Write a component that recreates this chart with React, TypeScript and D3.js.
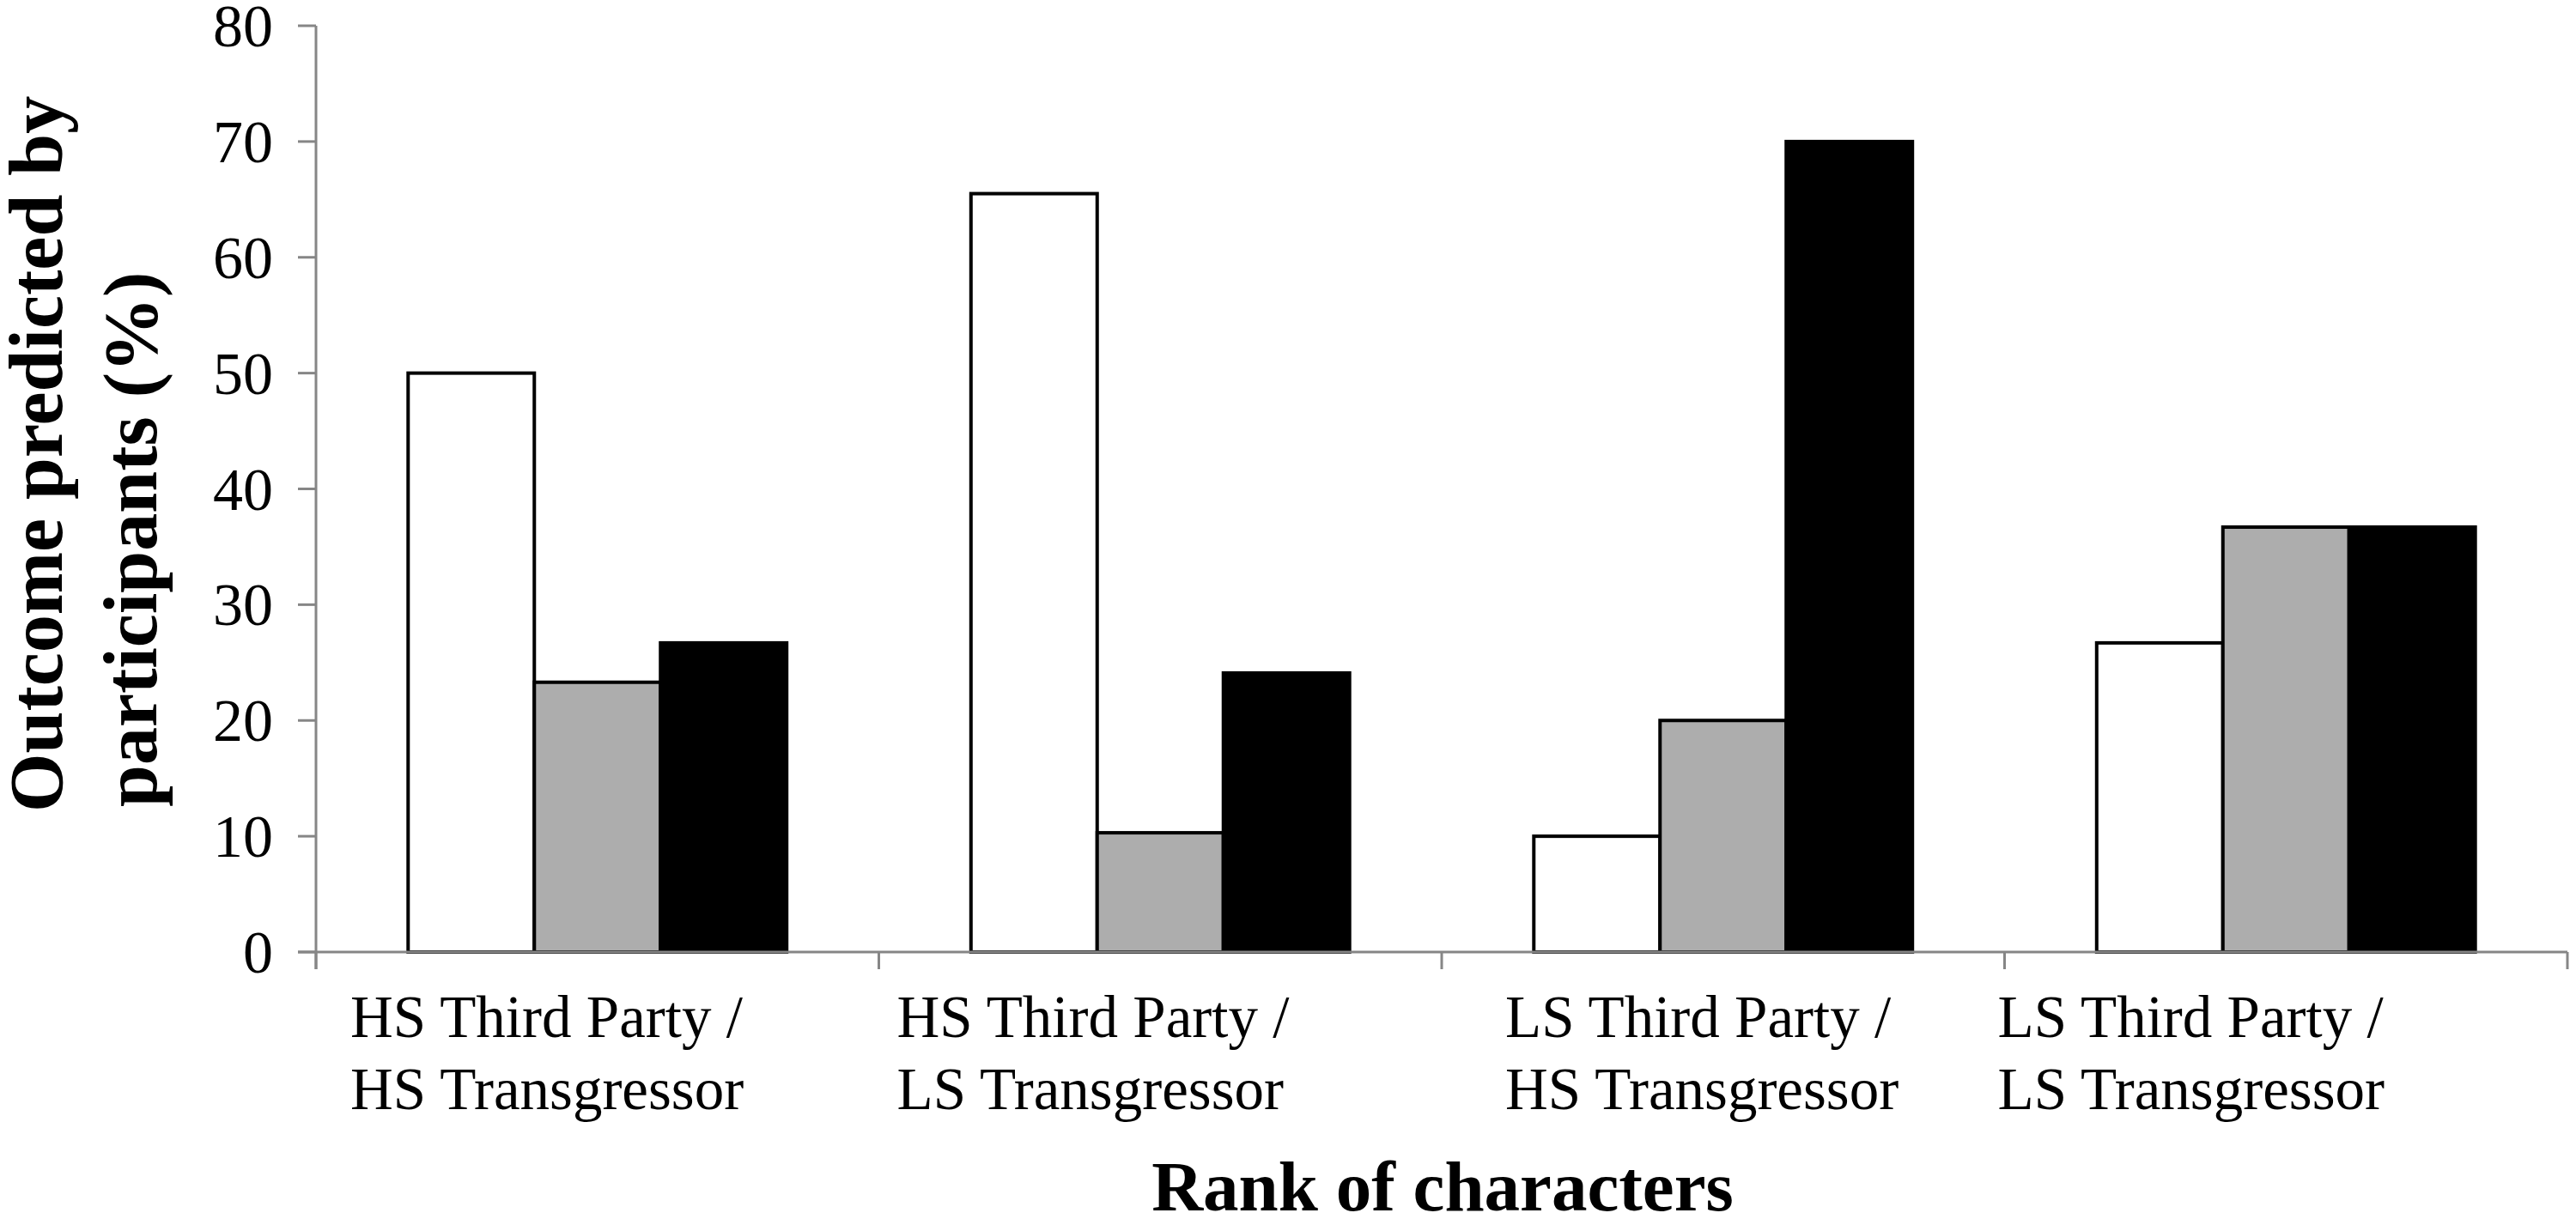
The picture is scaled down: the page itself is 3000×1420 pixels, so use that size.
import React from "react";
import * as d3 from "d3";

const categories = ["HS/HS", "HS/LS", "LS/HS", "LS/LS"];
const labelLines = [
  ["HS Third Party /", "HS Transgressor"],
  ["HS Third Party /", "LS Transgressor"],
  ["LS Third Party /", "HS Transgressor"],
  ["LS Third Party /", "LS Transgressor"],
];
const seriesNames = ["s1", "s2", "s3"];
const series1 = [50, 65.5, 10, 26.7];
const series2 = [23.3, 10.3, 20, 36.7];
const series3 = [26.7, 24.1, 70, 36.7];
const yTicks = [0, 10, 20, 30, 40, 50, 60, 70, 80];

const seriesValues = [series1, series2, series3];
const fills = ["#ffffff", "#adadad", "#000000"];
const labelDx = [40, 21, 74, -8];

const W = 3000;
const H = 1420;
const FONT = "'Liberation Serif', 'Times New Roman', serif";

export default function App() {
  const x0 = d3.scaleBand<string>().domain(categories).range([368, 2990]).paddingInner(0).paddingOuter(0);
  const x1 = d3.scaleBand<string>().domain(seriesNames).range([0, x0.bandwidth()]).paddingInner(0).paddingOuter(0.73);
  const y = d3.scaleLinear().domain([0, 80]).range([1109, 30]);
  const axisColor = "#868686";
  const boundaries = [...categories.map((c) => x0(c) as number), 2990];

  return (
    <div style={{ position: "absolute", left: 0, top: 0, width: W, height: H, background: "#fff" }}>
      <svg width={W} height={H} style={{ display: "block" }} fontFamily={FONT}>
        <rect x={0} y={0} width={W} height={H} fill="#fff" />
        {/* bars */}
        {categories.map((c, ci) => (
          <g key={c} transform={`translate(${x0(c)},0)`}>
            {seriesNames.map((s, si) => {
              const v = seriesValues[si][ci];
              return (
                <rect
                  key={s}
                  x={x1(s)}
                  y={y(v)}
                  width={x1.bandwidth()}
                  height={y(0) - y(v)}
                  fill={fills[si]}
                  stroke="#000"
                  strokeWidth={4}
                />
              );
            })}
          </g>
        ))}
        {/* y axis */}
        <line x1={368} x2={368} y1={y(80)} y2={y(0) + 20} stroke={axisColor} strokeWidth={3} />
        {yTicks.map((t) => (
          <g key={t}>
            <line x1={347} x2={368} y1={y(t)} y2={y(t)} stroke={axisColor} strokeWidth={3} />
            <text x={318} y={y(t) + 24} textAnchor="end" fontSize={70} fill="#000">
              {t}
            </text>
          </g>
        ))}
        {/* x axis */}
        <line x1={347} x2={2990} y1={y(0)} y2={y(0)} stroke={axisColor} strokeWidth={3} />
        {boundaries.map((b, i) => (
          <line key={i} x1={b} x2={b} y1={y(0)} y2={y(0) + 20} stroke={axisColor} strokeWidth={3} />
        ))}
        {categories.map((c, ci) => (
          <text key={c} fontSize={69} fill="#000" textAnchor="start">
            {labelLines[ci].map((ln, li) => (
              <tspan key={li} x={(x0(c) as number) + labelDx[ci]} y={1208 + li * 84}>
                {ln}
              </tspan>
            ))}
          </text>
        ))}
        {/* axis titles */}
        <text x={1680} y={1410} textAnchor="middle" fontSize={83} fontWeight="bold" fill="#000">
          Rank of characters
        </text>
        <text transform="translate(72,946) rotate(-90)" fontSize={88} fontWeight="bold" fill="#000" textAnchor="start">
          Outcome predicted by
        </text>
        <text transform="translate(182,940) rotate(-90)" fontSize={88} fontWeight="bold" fill="#000" textAnchor="start">
          participants (%)
        </text>
      </svg>
    </div>
  );
}
